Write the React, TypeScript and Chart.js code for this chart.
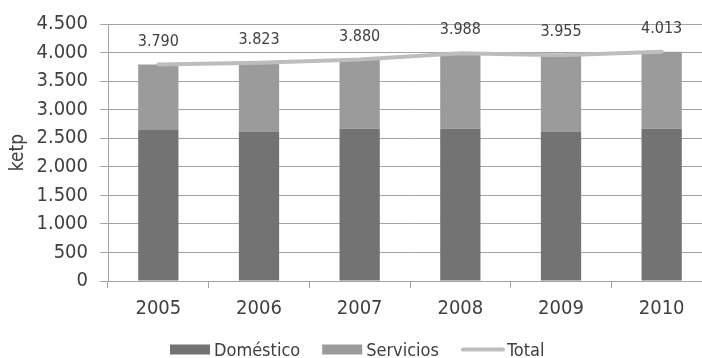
import React, { useEffect, useRef } from "react";
import { Chart, registerables } from "chart.js";

Chart.register(...registerables);

const categories = ["2005", "2006", "2007", "2008", "2009", "2010"];
const domestico = [2642, 2607, 2664, 2664, 2619, 2664];
const servicios = [1148, 1216, 1216, 1324, 1336, 1349];
const total = [3790, 3823, 3880, 3988, 3955, 4013];
const yTicks = [0, 500, 1000, 1500, 2000, 2500, 3000, 3500, 4000, 4500];

const seriesNames = ["Doméstico", "Servicios", "Total"];
const colors = ["#737373", "#9b9b9b", "#bdbdbd"];
const textColor = "#404040";
const gridColor = "#a3a3a3";
const FONT = "'DejaVu Sans Condensed', 'DejaVu Sans', sans-serif";

const fmt = (v: number) => String(Math.round(v)).replace(/\B(?=(\d{3})+(?!\d))/g, ".");

const lineLabels = {
  id: "lineLabels",
  afterDatasetsDraw(chart: any) {
    const meta = chart.getDatasetMeta(2);
    const ctx = chart.ctx;
    ctx.save();
    ctx.font = "16px " + FONT;
    ctx.fillStyle = textColor;
    ctx.textAlign = "center";
    ctx.textBaseline = "middle";
    meta.data.forEach((pt: any, i: number) => {
      ctx.fillText(fmt(chart.data.datasets[2].data[i]), pt.x, pt.y - 23);
    });
    ctx.restore();
  },
};

const customLegend = {
  id: "customLegend",
  afterDraw(chart: any) {
    const ctx = chart.ctx;
    ctx.save();
    ctx.font = "18px " + FONT;
    ctx.textBaseline = "middle";
    const boxW = 40;
    const gapText = 4;
    const gapItem = 22;
    const widths = chart.data.datasets.map((d: any) => ctx.measureText(d.label).width);
    let x = 170;
    const y = 349.5;
    chart.data.datasets.forEach((d: any, i: number) => {
      if (d.type === "line") {
        ctx.strokeStyle = d.borderColor;
        ctx.lineWidth = 4;
        ctx.lineCap = "round";
        ctx.beginPath();
        ctx.moveTo(x + 2, y);
        ctx.lineTo(x + boxW + 2, y);
        ctx.stroke();
        ctx.fillStyle = textColor;
        ctx.fillText(d.label, x + boxW + gapText + 2, y + 1.5);
      } else {
        ctx.fillStyle = d.backgroundColor;
        ctx.fillRect(x, y - 5, boxW, 10);
        ctx.fillStyle = textColor;
        ctx.fillText(d.label, x + boxW + gapText, y + 1.5);
      }
      x += boxW + gapText + widths[i] + gapItem;
    });
    ctx.restore();
  },
};

export default function App() {
  const ref = useRef<HTMLCanvasElement>(null);
  useEffect(() => {
    if (!ref.current) return;
    const chart = new Chart(ref.current, {
      data: {
        labels: categories,
        datasets: [
          {
            type: "bar",
            label: seriesNames[0],
            data: domestico,
            backgroundColor: colors[0],
            stack: "a",
            order: 1,
            categoryPercentage: 1,
            barPercentage: 0.4,
          },
          {
            type: "bar",
            label: seriesNames[1],
            data: servicios,
            backgroundColor: colors[1],
            stack: "a",
            order: 1,
            categoryPercentage: 1,
            barPercentage: 0.4,
          },
          {
            type: "line",
            label: seriesNames[2],
            data: total,
            borderColor: colors[2],
            backgroundColor: colors[2],
            borderWidth: 4,
            borderCapStyle: "round",
            pointRadius: 0,
            stack: "b",
            order: 0,
            tension: 0,
          },
        ],
      } as any,
      options: {
        responsive: false,
        animation: false,
        layout: { padding: { left: 0, right: 8, top: 20.5, bottom: 37 } },
        plugins: { legend: { display: false }, tooltip: { enabled: false } },
        scales: {
          x: {
            stacked: true,
            offset: true,
            grid: { display: true, drawOnChartArea: false, drawTicks: true, tickLength: 7, color: gridColor, offset: true },
            border: { display: true, color: gridColor },
            ticks: { color: textColor, font: { family: FONT, size: 20 }, padding: 9 },
            afterFit: (s: any) => { s.height = 40; },
          },
          y: {
            stacked: true,
            min: 0,
            max: 4500,
            afterBuildTicks: (s: any) => { s.ticks = yTicks.map((v) => ({ value: v })); },
            grid: { color: gridColor, tickLength: 8, drawTicks: true },
            border: { display: true, color: gridColor },
            ticks: { color: textColor, font: { family: FONT, size: 20 }, padding: 12, callback: (v: any) => fmt(Number(v)) },
            title: { display: true, text: "ketp", color: textColor, font: { family: FONT, size: 19 }, padding: { top: 7, bottom: 0 } },
            afterFit: (s: any) => { s.width = 108; },
          },
        },
      } as any,
      plugins: [lineLabels, customLegend],
    });
    return () => chart.destroy();
  }, []);
  return (
    <div style={{ position: "absolute", left: 0, top: 0, width: 702, height: 358, overflow: "hidden", background: "#fff" }}>
      <canvas ref={ref} width={720} height={358} style={{ display: "block" }} />
    </div>
  );
}
